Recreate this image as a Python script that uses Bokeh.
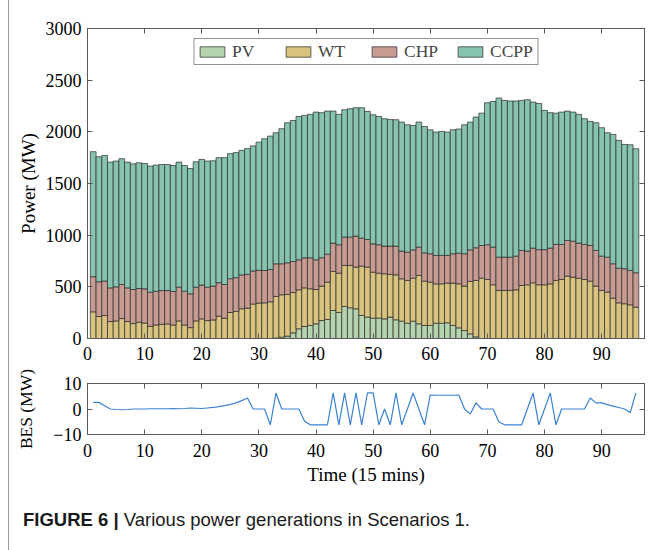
from bokeh.plotting import figure
from bokeh.models import ColumnDataSource, LinearAxis, Range1d, FixedTicker, Div
from bokeh.layouts import column
from bokeh.embed import file_html
from bokeh.resources import INLINE

# Time steps (15-minute intervals)
t = list(range(1, 97))

# Power output per source (MW)
pv = [0, 0, 0, 0, 0, 0, 0, 0, 0, 0,
      0, 0, 0, 0, 0, 0, 0, 0, 0, 0,
      0, 0, 0, 0, 0, 0, 0, 0, 0, 0,
      0, 0, 4, 13, 23, 55, 94, 116, 126, 142,
      174, 184, 271, 252, 310, 297, 287, 223, 207, 197,
      197, 190, 207, 181, 168, 148, 168, 142, 126, 126,
      148, 148, 152, 126, 103, 77, 45, 16, 0, 0,
      0, 0, 0, 0, 0, 0, 0, 0, 0, 0,
      0, 0, 0, 0, 0, 0, 0, 0, 0, 0,
      0, 0, 0, 0, 0, 0]
wt = [258, 213, 222, 164, 170, 193, 164, 144, 157, 150,
      118, 131, 137, 141, 131, 170, 131, 105, 170, 190,
      173, 180, 216, 196, 252, 262, 288, 294, 334, 343,
      345, 355, 403, 410, 403, 390, 377, 374, 355, 332,
      333, 361, 378, 380, 397, 410, 404, 477, 484, 445,
      435, 436, 413, 435, 410, 414, 416, 468, 429, 419,
      381, 381, 384, 410, 426, 430, 507, 546, 584, 571,
      520, 465, 465, 465, 471, 513, 520, 539, 520, 520,
      529, 562, 571, 604, 594, 584, 571, 555, 507, 465,
      449, 390, 345, 336, 326, 303]
chp = [340, 336, 334, 326, 330, 330, 326, 330, 327, 331,
       330, 327, 327, 323, 324, 327, 327, 327, 327, 327,
       324, 327, 324, 327, 327, 327, 327, 327, 320, 317,
       313, 313, 316, 300, 307, 300, 291, 291, 300, 288,
       274, 271, 274, 275, 274, 274, 300, 271, 267, 274,
       275, 268, 274, 278, 268, 274, 274, 274, 274, 275,
       275, 275, 268, 284, 297, 313, 306, 316, 316, 336,
       364, 322, 322, 322, 326, 339, 326, 336, 340, 340,
       346, 348, 339, 345, 348, 339, 339, 345, 345, 332,
       338, 333, 336, 339, 333, 333]
ccpp = [1210, 1210, 1216, 1217, 1217, 1217, 1217, 1216, 1216, 1213,
        1220, 1220, 1220, 1220, 1219, 1210, 1216, 1213, 1213, 1216,
        1220, 1213, 1210, 1227, 1210, 1210, 1206, 1217, 1210, 1240,
        1275, 1291, 1268, 1307, 1355, 1365, 1387, 1378, 1388, 1429,
        1404, 1385, 1278, 1262, 1233, 1242, 1242, 1262, 1240, 1249,
        1242, 1233, 1226, 1223, 1248, 1232, 1204, 1210, 1223, 1200,
        1194, 1200, 1194, 1200, 1201, 1248, 1236, 1265, 1281, 1374,
        1410, 1540, 1517, 1511, 1501, 1452, 1465, 1413, 1415, 1347,
        1310, 1271, 1281, 1252, 1249, 1246, 1217, 1201, 1236, 1243,
        1204, 1252, 1236, 1203, 1216, 1200]

# Battery energy storage power (MW)
bes = [2.6, 2.6, 1.3, 0.0, -0.2, -0.3, -0.2, 0.0, 0.0, 0.0,
       0.1, 0.1, 0.1, 0.1, 0.2, 0.1, 0.2, 0.4, 0.3, 0.2,
       0.4, 0.6, 0.9, 1.3, 1.8, 2.4, 3.3, 4.3, 0.0, 0.0,
       0.0, -6.2, 6.3, 0.0, 0.0, 0.0, 0.0, -4.8, -6.2, -6.2,
       -6.2, -6.2, 6.3, -6.2, 6.3, -6.2, 6.3, -6.2, 6.3, 6.3,
       -6.2, 0.0, -6.2, 6.3, -6.2, 0.0, 6.3, 0.0, -6.2, 5.5,
       5.4, 5.4, 5.4, 5.4, 5.5, 0.0, -2.0, 2.4, 0.0, 0.0,
       0.0, -5.0, -6.2, -6.2, -6.2, -6.2, 0.0, 6.3, -6.2, 0.0,
       6.3, -6.2, 0.0, 0.0, 0.0, 0.0, 0.0, 4.3, 2.4, 2.4,
       1.7, 1.1, 0.6, 0.0, -1.4, 6.3]

layer_names = ["PV", "WT", "CHP", "CCPP"]
layer_colors = ["#b4d3ae", "#d9c47f", "#c79a92", "#86c4af"]
x_ticks = [0, 10, 20, 30, 40, 50, 60, 70, 80, 90]
power_ticks = [0, 500, 1000, 1500, 2000, 2500, 3000]
bes_ticks = [-10, 0, 10]

SERIF = "Liberation Serif"
AXIS_GRAY = "#5a5a5a"
TICK_SIZE = "18px"
LABEL_SIZE = "19px"


def style_axis(ax, ticks):
    ax.ticker = FixedTicker(ticks=ticks)
    ax.axis_line_color = AXIS_GRAY
    ax.axis_line_width = 1
    ax.major_tick_in = 5
    ax.major_tick_out = 0
    ax.minor_tick_in = 0
    ax.minor_tick_out = 0
    ax.major_tick_line_color = AXIS_GRAY
    ax.major_label_text_font = SERIF
    ax.major_label_text_font_size = TICK_SIZE
    ax.major_label_text_color = "black"
    ax.axis_label_text_font = SERIF
    ax.axis_label_text_font_size = LABEL_SIZE
    ax.axis_label_text_font_style = "normal"
    ax.axis_label_text_color = "black"


def tick_only_axis(ticks):
    # mirrored axis on the opposite side: tick marks, no labels
    ax = LinearAxis()
    style_axis(ax, ticks)
    ax.major_label_overrides = {v: "" for v in ticks}
    ax.major_label_text_font_size = "1px"
    ax.major_label_standoff = 0
    return ax


def base_figure(height, y_range, top, bottom):
    p = figure(width=640, height=height, x_range=Range1d(0, 97.5), y_range=y_range,
               output_backend="svg", toolbar_location=None,
               min_border_left=78, min_border_right=5,
               min_border_top=top, min_border_bottom=bottom)
    p.grid.visible = False
    p.outline_line_color = AXIS_GRAY
    p.background_fill_color = "white"
    p.border_fill_color = "white"
    return p


# Stacked generation bars
p1 = base_figure(367, Range1d(0, 3000), 28, 29)
src = ColumnDataSource(dict(t=t, PV=pv, WT=wt, CHP=chp, CCPP=ccpp))
p1.vbar_stack(layer_names, x="t", width=1.0, color=layer_colors,
              line_color="#2b2b2b", line_width=0.7, source=src,
              legend_label=layer_names)
style_axis(p1.xaxis[0], x_ticks)
style_axis(p1.yaxis[0], power_ticks)
p1.yaxis[0].axis_label = "Power (MW)"
p1.yaxis[0].axis_label_standoff = 4
p1.yaxis[0].major_label_standoff = 6
p1.xaxis[0].major_label_standoff = 8
p1.add_layout(tick_only_axis(power_ticks), "right")
p1.add_layout(tick_only_axis(x_ticks), "above")

lg = p1.legend[0]
lg.orientation = "horizontal"
lg.location = "top_center"
lg.label_text_font = SERIF
lg.label_text_font_size = "17.5px"
lg.glyph_width = 31
lg.glyph_height = 13
lg.label_width = 45
lg.label_standoff = 5
lg.spacing = 5
lg.padding = 2
lg.margin = 10
lg.border_line_color = "#262626"
lg.border_line_width = 1
lg.background_fill_color = "white"
lg.background_fill_alpha = 1

# Battery storage line
p2 = base_figure(122, Range1d(-10, 10), 16, 55)
p2.line(t, bes, line_color="#3b82d1", line_width=1.2)
style_axis(p2.xaxis[0], x_ticks)
style_axis(p2.yaxis[0], bes_ticks)
p2.xaxis[0].axis_label = "Time (15 mins)"
p2.xaxis[0].axis_label_standoff = 4
p2.xaxis[0].major_label_standoff = 9
p2.yaxis[0].axis_label = "BES (MW)"
p2.yaxis[0].axis_label_text_font_size = "17.5px"
p2.yaxis[0].axis_label_standoff = 14
p2.yaxis[0].major_label_standoff = 6
p2.add_layout(tick_only_axis(bes_ticks), "right")
p2.add_layout(tick_only_axis(x_ticks), "above")

caption = Div(
    text=('<div style="font-family: \'Liberation Sans\'; font-size: 18.5px; color: #1a1a1a; '
          'padding-left: 9px; padding-top: 13px; white-space: nowrap;">'
          '<b>FIGURE 6 |</b> Various power generations in Scenarios 1.</div>'),
    width=640, height=61)

layout = column(p1, p2, caption,
                styles={"border-left": "1px solid #9a9a9a", "margin-left": "8px"})

open("out.html", "w").write(file_html(layout, INLINE))
